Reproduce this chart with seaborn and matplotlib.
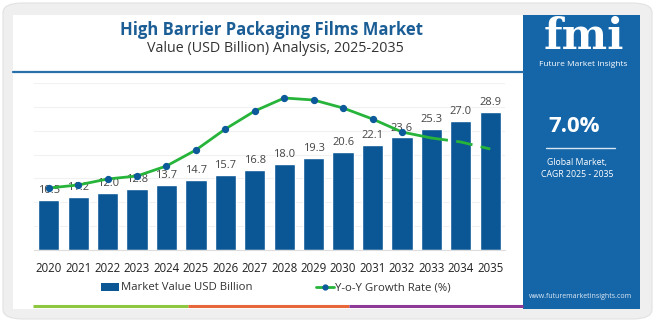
import matplotlib
matplotlib.use("Agg")
import matplotlib.pyplot as plt
import seaborn as sns
import pandas as pd
from matplotlib.patches import FancyBboxPatch, Rectangle
from matplotlib.lines import Line2D

years = ["2020", "2021", "2022", "2023", "2024", "2025", "2026", "2027",
         "2028", "2029", "2030", "2031", "2032", "2033", "2034", "2035"]
market_value = [10.5, 11.2, 12.0, 12.8, 13.7, 14.7, 15.7, 16.8,
                18.0, 19.3, 20.6, 22.1, 23.6, 25.3, 27.0, 28.9]
yoy_growth = [3.1, 3.25, 3.55, 3.7, 4.2, 5.0, 6.05, 6.95,
              7.6, 7.5, 7.1, 6.55, 5.9, 5.6, 5.4, 5.05]
value_labels = ["10.5", "11.2", "12.0", "12.8", "13.7", "14.7", "15.7", "16.8",
                "18.0", "19.3", "20.6", "22.1", "23.6", "25.3", "27.0", "28.9"]

BAR = "#0b5796"
GREEN = "#27b43a"
PANEL = "#1566a9"

sns.set_theme(style="white")
plt.rcParams['font.family'] = ['Open Sans', 'DejaVu Sans']

W, H = 655, 324
fig = plt.figure(figsize=(W / 100, H / 100), dpi=100)
fig.patch.set_facecolor("white")

def fx(x): return x / W
def fy(y): return 1 - y / H

# outer card frame
fig.patches.append(FancyBboxPatch((fx(3), fy(319)), fx(649), (319 - 3) / H,
                                  boxstyle="round,pad=0,rounding_size=0.03",
                                  transform=fig.transFigure, facecolor="#efefef",
                                  edgecolor="#e2e2e2", lw=0.8, zorder=-10))
fig.patches.append(Rectangle((fx(13), fy(309)), fx(640 - 13), (309 - 15) / H,
                             transform=fig.transFigure, facecolor="white",
                             edgecolor="none", zorder=-9))
# right panel
fig.patches.append(Rectangle((fx(523), fy(309)), fx(640 - 523), (309 - 15) / H,
                             transform=fig.transFigure, facecolor=PANEL,
                             edgecolor="none", zorder=-8))
# line under title
fig.lines.append(Line2D([fx(13), fx(523)], [fy(72), fy(72)], transform=fig.transFigure,
                        color="#2a70a8", lw=1.6))
# bottom coloured strip
for x0, x1, c in [(33, 188, "#8dc63f"), (188, 349, "#e8673a"), (349, 523, "#8e3a96")]:
    fig.lines.append(Line2D([fx(x0), fx(x1)], [fy(306), fy(306)], transform=fig.transFigure,
                            color=c, lw=2.2, solid_capstyle="butt"))

# titles
fig.text(fx(271), fy(30), "High Barrier Packaging Films Market", ha="center", va="center",
         fontsize=12, fontweight="bold", color="#1b5e96")
fig.text(fx(275), fy(49), "Value (USD Billion) Analysis, 2025-2035", ha="center", va="center",
         fontsize=10.3, color="#333333")

# right panel text
fig.text(fx(584), fy(37), "fmi", ha="center", va="center", fontsize=31,
         fontweight="bold", color="white", family=["DejaVu Serif"])
fig.text(fx(583), fy(65), "Future Market Insights", ha="center", va="center",
         fontsize=6, color="white")
fig.text(fx(574), fy(127), "7.0%", ha="center", va="center", fontsize=16,
         fontweight="bold", color="white")
fig.lines.append(Line2D([fx(546), fx(615)], [fy(148), fy(148)], transform=fig.transFigure,
                        color="#d8e6f3", lw=1))
fig.text(fx(577), fy(162), "Global Market,", ha="center", va="center", fontsize=6.3, color="white")
fig.text(fx(577), fy(174), "CAGR 2025 - 2035", ha="center", va="center", fontsize=6.3, color="white")
fig.text(fx(580), fy(296), "www.futuremarketinsights.com", ha="center", va="center",
         fontsize=5, color="#dde8f3")

# main axes
ax = fig.add_axes([fx(34), fy(250), fx(505 - 34), (250 - 83) / H])
ax.set_facecolor("none")
df = pd.DataFrame({"Year": years, "Value": market_value, "Growth": yoy_growth})
sns.barplot(data=df, x="Year", y="Value", color=BAR, width=0.72, saturation=1,
            ax=ax, zorder=2)
ax.set_ylim(0, 35)
ax.set_xlim(-0.5, len(years) - 0.5)
ax.set_yticks([0, 5, 10, 15, 20, 25, 30, 35])
ax.yaxis.grid(True, color="#f1f1f1", lw=0.8)
ax.set_axisbelow(True)
ax.set_yticklabels([])
ax.tick_params(axis="y", length=0)
ax.set_xlabel("")
ax.set_ylabel("")
for s in ["top", "right", "left"]:
    ax.spines[s].set_visible(False)
ax.spines["bottom"].set_color("#dddddd")
ax.spines["bottom"].set_linewidth(0.8)
ax.tick_params(axis="x", length=0, labelsize=8.3, labelcolor="#222222", pad=9)
ax.set_xticks([i - 0.5 for i in range(len(years) + 1)], minor=True)
ax.tick_params(axis="x", which="minor", length=4, color="#dddddd", width=0.8)
for i, (v, lab) in enumerate(zip(market_value, value_labels)):
    ax.text(i, v + 0.8, lab, ha="center", va="bottom", fontsize=8, color="#444444", zorder=3)

ax2 = ax.twinx()
ax2.set_ylim(0, 8.35)
xs = list(range(len(years)))
sns.lineplot(x=xs[:14], y=yoy_growth[:14], ax=ax2, color=GREEN, lw=2, zorder=4)
ax2.plot(xs[13:], yoy_growth[13:], color=GREEN, lw=2, ls=(0, (6, 3)), zorder=4)
ax2.scatter(xs[:13], yoy_growth[:13], s=18, color="#0d5a9a", zorder=5)
ax2.axis("off")

# legend
handles = [Rectangle((0, 0), 1, 1, facecolor=BAR, edgecolor="none"),
           Line2D([0], [0], color=GREEN, lw=2, marker="o", markersize=3.5,
                  markerfacecolor="#0d5a9a", markeredgecolor="#0d5a9a")]
fig.legend(handles, ["Market Value USD Billion", "Y-o-Y Growth Rate (%)"],
           loc="center", bbox_to_anchor=(fx(276), fy(288)), ncol=2, frameon=False,
           fontsize=8.2, handlelength=1.6, handleheight=0.7, handletextpad=0.1,
           columnspacing=5.6, labelcolor="#333333")

fig.savefig("out.png", dpi=100)
